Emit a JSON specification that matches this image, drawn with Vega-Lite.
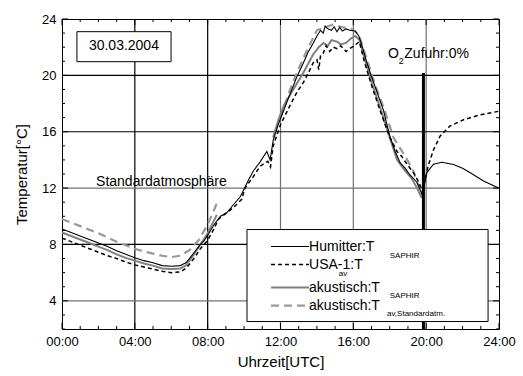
{
  "$schema": "https://vega.github.io/schema/vega-lite/v6.json",
  "width": 437,
  "height": 310,
  "autosize": {"type": "none"},
  "padding": {"left": 62, "top": 19, "right": 24, "bottom": 47},
  "background": "white",
  "config": {
    "font": "Liberation Sans",
    "view": {"stroke": "black", "strokeWidth": 1},
    "axis": {"labelFont": "Liberation Sans", "titleFont": "Liberation Sans", "labelColor": "black", "titleColor": "black", "titleFontWeight": "normal", "domain": false, "ticks": false, "grid": false}
  },
  "datasets": {
    "one": [{"k": 1}],
    "tx": [{"v":0},{"v":1},{"v":2},{"v":3},{"v":4},{"v":5},{"v":6},{"v":7},{"v":8},{"v":9},{"v":10},{"v":11},{"v":12},{"v":13},{"v":14},{"v":15},{"v":16},{"v":17},{"v":18},{"v":19},{"v":20},{"v":21},{"v":22},{"v":23},{"v":24}],
    "ty": [{"v":2},{"v":3},{"v":4},{"v":5},{"v":6},{"v":7},{"v":8},{"v":9},{"v":10},{"v":11},{"v":12},{"v":13},{"v":14},{"v":15},{"v":16},{"v":17},{"v":18},{"v":19},{"v":20},{"v":21},{"v":22},{"v":23},{"v":24}],
    "gx": [{"v": 4}, {"v": 8}, {"v": 12}, {"v": 16}, {"v": 20}],
    "gy": [{"v": 4}, {"v": 8}, {"v": 12}, {"v": 16}, {"v": 20}],
    "hum": [
      {"t":0.0,"T":9.1},{"t":0.5,"T":8.85},{"t":1.0,"T":8.6},{"t":1.5,"T":8.35},{"t":2.0,"T":8.1},{"t":2.5,"T":7.85},{"t":3.0,"T":7.55},{"t":3.5,"T":7.3},{"t":4.0,"T":7.05},{"t":4.5,"T":6.85},{"t":5.0,"T":6.7},{"t":5.5,"T":6.5},{"t":6.0,"T":6.45},{"t":6.5,"T":6.5},{"t":6.8,"T":6.7},{"t":7.0,"T":7.0},{"t":7.3,"T":7.5},{"t":7.6,"T":8.0},{"t":7.8,"T":8.25},{"t":8.0,"T":8.65},{"t":8.35,"T":9.4},{"t":8.7,"T":10.0},{"t":9.05,"T":10.25},{"t":9.4,"T":10.8},{"t":9.8,"T":11.4},{"t":10.25,"T":12.6},{"t":10.5,"T":13.2},{"t":10.9,"T":13.9},{"t":11.25,"T":14.6},{"t":11.43,"T":14.0},{"t":11.6,"T":15.4},{"t":11.9,"T":16.6},{"t":12.2,"T":17.6},{"t":12.5,"T":18.6},{"t":12.9,"T":19.9},{"t":13.26,"T":20.9},{"t":13.5,"T":21.6},{"t":13.8,"T":22.3},{"t":14.0,"T":22.8},{"t":14.2,"T":23.2},{"t":14.35,"T":23.0},{"t":14.45,"T":23.5},{"t":14.6,"T":23.3},{"t":14.8,"T":23.2},{"t":14.95,"T":23.45},{"t":15.1,"T":23.1},{"t":15.25,"T":23.4},{"t":15.4,"T":23.15},{"t":15.6,"T":23.3},{"t":15.8,"T":23.2},{"t":16.1,"T":23.15},{"t":16.3,"T":22.8},{"t":16.5,"T":22.0},{"t":16.7,"T":21.1},{"t":17.0,"T":19.9},{"t":17.25,"T":19.0},{"t":17.66,"T":17.5},{"t":18.0,"T":15.7},{"t":18.3,"T":14.6},{"t":18.57,"T":13.8},{"t":18.85,"T":13.4},{"t":19.1,"T":12.95},{"t":19.5,"T":12.4},{"t":19.76,"T":11.6},{"t":19.9,"T":12.3},{"t":20.04,"T":13.1},{"t":20.4,"T":13.7},{"t":20.86,"T":13.83},{"t":21.5,"T":13.67},{"t":22.0,"T":13.4},{"t":22.4,"T":13.1},{"t":23.15,"T":12.5},{"t":23.98,"T":12.0}
    ],
    "usa": [
      {"t":0.0,"T":8.45},{"t":0.5,"T":8.2},{"t":1.0,"T":7.95},{"t":1.5,"T":7.7},{"t":2.0,"T":7.45},{"t":2.5,"T":7.2},{"t":3.0,"T":7.0},{"t":3.5,"T":6.75},{"t":4.0,"T":6.55},{"t":4.5,"T":6.4},{"t":5.0,"T":6.25},{"t":5.5,"T":6.1},{"t":6.0,"T":6.0},{"t":6.5,"T":6.05},{"t":6.8,"T":6.3},{"t":7.0,"T":6.6},{"t":7.3,"T":7.1},{"t":7.6,"T":7.7},{"t":8.0,"T":8.3},{"t":8.3,"T":9.0},{"t":8.6,"T":9.8},{"t":9.0,"T":10.2},{"t":9.4,"T":10.6},{"t":9.87,"T":11.2},{"t":10.05,"T":12.0},{"t":10.5,"T":12.8},{"t":10.88,"T":13.55},{"t":11.3,"T":13.9},{"t":11.45,"T":13.5},{"t":11.6,"T":15.0},{"t":12.0,"T":16.5},{"t":12.5,"T":17.8},{"t":12.9,"T":18.8},{"t":13.26,"T":19.5},{"t":13.5,"T":20.1},{"t":13.8,"T":20.9},{"t":14.0,"T":21.1},{"t":14.1,"T":20.4},{"t":14.2,"T":21.4},{"t":14.36,"T":21.6},{"t":14.5,"T":22.1},{"t":14.7,"T":21.7},{"t":14.9,"T":22.0},{"t":15.1,"T":21.9},{"t":15.3,"T":22.1},{"t":15.6,"T":21.7},{"t":15.8,"T":21.9},{"t":16.0,"T":22.05},{"t":16.33,"T":22.4},{"t":16.6,"T":21.0},{"t":17.0,"T":19.3},{"t":17.5,"T":17.4},{"t":18.0,"T":15.6},{"t":18.4,"T":14.6},{"t":18.66,"T":14.25},{"t":19.0,"T":13.6},{"t":19.3,"T":13.1},{"t":19.6,"T":12.4},{"t":19.8,"T":11.8},{"t":19.95,"T":12.6},{"t":20.1,"T":13.55},{"t":20.4,"T":14.7},{"t":20.77,"T":15.7},{"t":21.3,"T":16.4},{"t":22.05,"T":16.85},{"t":22.97,"T":17.2},{"t":23.98,"T":17.45}
    ],
    "aks": [
      {"t":0.0,"T":8.85,"g":1},{"t":0.5,"T":8.6,"g":1},{"t":1.0,"T":8.35,"g":1},{"t":1.5,"T":8.1,"g":1},{"t":2.0,"T":7.85,"g":1},{"t":2.5,"T":7.6,"g":1},{"t":3.0,"T":7.3,"g":1},{"t":3.5,"T":7.05,"g":1},{"t":4.0,"T":6.85,"g":1},{"t":4.5,"T":6.65,"g":1},{"t":5.0,"T":6.5,"g":1},{"t":5.5,"T":6.3,"g":1},{"t":6.0,"T":6.25,"g":1},{"t":6.5,"T":6.3,"g":1},{"t":6.8,"T":6.5,"g":1},{"t":7.0,"T":6.85,"g":1},{"t":7.3,"T":7.4,"g":1},{"t":7.6,"T":8.0,"g":1},{"t":8.0,"T":8.8,"g":1},{"t":8.5,"T":10.1,"g":1},
      {"t":11.6,"T":15.6,"g":2},{"t":11.9,"T":16.9,"g":2},{"t":12.2,"T":17.9,"g":2},{"t":12.7,"T":19.0,"g":2},{"t":13.26,"T":20.2,"g":2},{"t":13.8,"T":21.5,"g":2},{"t":14.1,"T":22.0,"g":2},{"t":14.36,"T":22.3,"g":2},{"t":14.6,"T":22.1,"g":2},{"t":14.8,"T":22.5,"g":2},{"t":15.1,"T":22.4,"g":2},{"t":15.3,"T":22.2,"g":2},{"t":15.6,"T":22.3,"g":2},{"t":15.85,"T":22.6,"g":2},{"t":16.1,"T":22.8,"g":2},{"t":16.35,"T":22.5,"g":2},{"t":16.6,"T":21.3,"g":2},{"t":17.0,"T":19.5,"g":2},{"t":17.5,"T":17.6,"g":2},{"t":18.0,"T":15.6,"g":2},{"t":18.4,"T":14.0,"g":2},{"t":18.8,"T":13.3,"g":2},{"t":19.2,"T":12.7,"g":2},{"t":19.5,"T":12.0,"g":2},{"t":19.76,"T":11.3,"g":2}
    ],
    "akav": [
      {"t":0.0,"T":9.8,"g":1},{"t":0.5,"T":9.55,"g":1},{"t":1.0,"T":9.3,"g":1},{"t":1.5,"T":9.05,"g":1},{"t":2.0,"T":8.8,"g":1},{"t":2.5,"T":8.5,"g":1},{"t":3.0,"T":8.2,"g":1},{"t":3.5,"T":7.95,"g":1},{"t":4.0,"T":7.7,"g":1},{"t":4.5,"T":7.5,"g":1},{"t":5.0,"T":7.35,"g":1},{"t":5.5,"T":7.2,"g":1},{"t":6.0,"T":7.1,"g":1},{"t":6.5,"T":7.2,"g":1},{"t":7.0,"T":7.6,"g":1},{"t":7.5,"T":8.3,"g":1},{"t":8.0,"T":9.4,"g":1},{"t":8.5,"T":10.9,"g":1},
      {"t":12.0,"T":17.0,"g":2},{"t":12.5,"T":18.9,"g":2},{"t":13.0,"T":20.5,"g":2},{"t":13.5,"T":21.9,"g":2},{"t":14.0,"T":23.2,"g":2},{"t":14.4,"T":23.4,"g":2},{"t":14.9,"T":23.6,"g":2},{"t":15.45,"T":23.4,"g":2},{"t":15.9,"T":23.3,"g":2},{"t":16.3,"T":22.9,"g":2},{"t":16.7,"T":21.3,"g":2},{"t":17.2,"T":19.3,"g":2},{"t":17.7,"T":17.6,"g":2},{"t":18.2,"T":15.6,"g":2},{"t":18.85,"T":14.25,"g":2},{"t":19.3,"T":13.2,"g":2},{"t":19.76,"T":11.5,"g":2}
    ]
  },
  "layer": [
    {
      "data": {"name": "hum"},
      "mark": {"type": "point", "opacity": 0},
      "encoding": {
        "x": {"field": "t", "type": "quantitative", "scale": {"domain": [0, 24], "nice": false, "zero": false},
          "axis": {"orient": "bottom", "values": [0,4,8,12,16,20,24],
            "labelExpr": "(datum.value < 10 ? '0' : '') + datum.value + ':00'",
            "labelFontSize": 13, "labelPadding": 6, "labelFlush": false,
            "title": "Uhrzeit[UTC]", "titleFontSize": 15, "titlePadding": 6}},
        "y": {"field": "T", "type": "quantitative", "scale": {"domain": [2, 24], "nice": false, "zero": false},
          "axis": {"orient": "left", "values": [4,8,12,16,20,24],
            "labelFontSize": 13, "labelPadding": 6, "labelFlush": false,
            "title": "Temperatur[°C]", "titleFontSize": 15, "titlePadding": 12}}
      }
    },
    {
      "data": {"name": "hum"},
      "mark": {"type": "point", "opacity": 0},
      "encoding": {
        "x": {"field": "t", "type": "quantitative",
          "axis": {"orient": "top", "values": [0,4,8,12,16,20,24], "labels": false, "ticks": false, "title": null}},
        "y": {"field": "T", "type": "quantitative",
          "axis": {"orient": "right", "values": [4,8,12,16,20,24], "labels": false, "ticks": false, "title": null}}
      }
    },
    {
      "data": {"name": "gx"},
      "mark": {"type": "rule", "strokeWidth": 1.2},
      "encoding": {
        "x": {"field": "v", "type": "quantitative", "axis": null},
        "color": {"condition": {"test": "datum.v === 4 || datum.v === 8", "value": "#000000"}, "value": "#707070"}
      }
    },
    {
      "data": {"name": "gy"},
      "mark": {"type": "rule", "strokeWidth": 1.2},
      "encoding": {
        "y": {"field": "v", "type": "quantitative", "axis": null},
        "color": {"condition": {"test": "datum.v === 4 || datum.v === 12", "value": "#707070"}, "value": "#000000"}
      }
    },
    {
      "data": {"name": "tx"},
      "transform": [{"filter": "datum.v % 4 === 0"}],
      "mark": {"type": "rule", "color": "black", "strokeWidth": 1},
      "encoding": {"x": {"field": "v", "type": "quantitative", "axis": null}, "y": {"datum": 2, "type": "quantitative", "axis": null}, "y2": {"datum": 2.43}}
    },
    {
      "data": {"name": "tx"},
      "transform": [{"filter": "datum.v % 4 !== 0"}],
      "mark": {"type": "rule", "color": "black", "strokeWidth": 1},
      "encoding": {"x": {"field": "v", "type": "quantitative", "axis": null}, "y": {"datum": 2, "type": "quantitative", "axis": null}, "y2": {"datum": 2.22}}
    },
    {
      "data": {"name": "tx"},
      "transform": [{"filter": "datum.v % 4 === 0"}],
      "mark": {"type": "rule", "color": "black", "strokeWidth": 1},
      "encoding": {"x": {"field": "v", "type": "quantitative", "axis": null}, "y": {"datum": 24, "type": "quantitative", "axis": null}, "y2": {"datum": 23.57}}
    },
    {
      "data": {"name": "tx"},
      "transform": [{"filter": "datum.v % 4 !== 0"}],
      "mark": {"type": "rule", "color": "black", "strokeWidth": 1},
      "encoding": {"x": {"field": "v", "type": "quantitative", "axis": null}, "y": {"datum": 24, "type": "quantitative", "axis": null}, "y2": {"datum": 23.78}}
    },
    {
      "data": {"name": "ty"},
      "transform": [{"filter": "datum.v % 4 === 0"}],
      "mark": {"type": "rule", "color": "black", "strokeWidth": 1},
      "encoding": {"y": {"field": "v", "type": "quantitative", "axis": null}, "x": {"datum": 0, "type": "quantitative", "axis": null}, "x2": {"datum": 0.33}}
    },
    {
      "data": {"name": "ty"},
      "transform": [{"filter": "datum.v % 4 !== 0"}],
      "mark": {"type": "rule", "color": "black", "strokeWidth": 1},
      "encoding": {"y": {"field": "v", "type": "quantitative", "axis": null}, "x": {"datum": 0, "type": "quantitative", "axis": null}, "x2": {"datum": 0.165}}
    },
    {
      "data": {"name": "ty"},
      "transform": [{"filter": "datum.v % 4 === 0"}],
      "mark": {"type": "rule", "color": "black", "strokeWidth": 1},
      "encoding": {"y": {"field": "v", "type": "quantitative", "axis": null}, "x": {"datum": 24, "type": "quantitative", "axis": null}, "x2": {"datum": 23.67}}
    },
    {
      "data": {"name": "ty"},
      "transform": [{"filter": "datum.v % 4 !== 0"}],
      "mark": {"type": "rule", "color": "black", "strokeWidth": 1},
      "encoding": {"y": {"field": "v", "type": "quantitative", "axis": null}, "x": {"datum": 24, "type": "quantitative", "axis": null}, "x2": {"datum": 23.835}}
    },
    {
      "data": {"name": "akav"},
      "mark": {"type": "line", "color": "#999999", "strokeWidth": 2.2, "strokeDash": [8, 5]},
      "encoding": {
        "x": {"field": "t", "type": "quantitative", "axis": null},
        "y": {"field": "T", "type": "quantitative", "axis": null},
        "detail": {"field": "g", "type": "nominal"}
      }
    },
    {
      "data": {"name": "aks"},
      "mark": {"type": "line", "color": "#808080", "strokeWidth": 2},
      "encoding": {
        "x": {"field": "t", "type": "quantitative", "axis": null},
        "y": {"field": "T", "type": "quantitative", "axis": null},
        "detail": {"field": "g", "type": "nominal"}
      }
    },
    {
      "data": {"name": "usa"},
      "mark": {"type": "line", "color": "black", "strokeWidth": 1.5, "strokeDash": [4, 3]},
      "encoding": {
        "x": {"field": "t", "type": "quantitative", "axis": null},
        "y": {"field": "T", "type": "quantitative", "axis": null}
      }
    },
    {
      "data": {"name": "hum"},
      "mark": {"type": "line", "color": "black", "strokeWidth": 1.1},
      "encoding": {
        "x": {"field": "t", "type": "quantitative", "axis": null},
        "y": {"field": "T", "type": "quantitative", "axis": null}
      }
    },
    {
      "data": {"name": "one"},
      "mark": {"type": "rule", "color": "black", "strokeWidth": 3},
      "encoding": {"x": {"datum": 19.85, "type": "quantitative", "axis": null}, "y": {"datum": 2, "type": "quantitative", "axis": null}, "y2": {"datum": 20.17}}
    },
    {
      "data": {"name": "one"},
      "mark": {"type": "rect", "fill": "white", "stroke": "black", "strokeWidth": 1},
      "encoding": {"x": {"datum": 0.82, "type": "quantitative", "axis": null}, "x2": {"datum": 5.99}, "y": {"datum": 23.1, "type": "quantitative", "axis": null}, "y2": {"datum": 20.97}}
    },
    {
      "data": {"name": "one"},
      "mark": {"type": "text", "fontSize": 14, "align": "center", "baseline": "middle", "font": "Liberation Sans"},
      "encoding": {"x": {"datum": 3.4, "type": "quantitative", "axis": null}, "y": {"datum": 22.05, "type": "quantitative", "axis": null}, "text": {"value": "30.03.2004"}}
    },
    {
      "data": {"name": "one"},
      "mark": {"type": "text", "fontSize": 14, "align": "left", "baseline": "middle", "font": "Liberation Sans"},
      "encoding": {"x": {"datum": 17.9, "type": "quantitative", "axis": null}, "y": {"datum": 21.5, "type": "quantitative", "axis": null}, "text": {"value": "O"}}
    },
    {
      "data": {"name": "one"},
      "mark": {"type": "text", "fontSize": 9, "align": "left", "baseline": "middle", "font": "Liberation Sans"},
      "encoding": {"x": {"datum": 18.5, "type": "quantitative", "axis": null}, "y": {"datum": 21.0, "type": "quantitative", "axis": null}, "text": {"value": "2"}}
    },
    {
      "data": {"name": "one"},
      "mark": {"type": "text", "fontSize": 14, "align": "left", "baseline": "middle", "font": "Liberation Sans"},
      "encoding": {"x": {"datum": 18.8, "type": "quantitative", "axis": null}, "y": {"datum": 21.5, "type": "quantitative", "axis": null}, "text": {"value": "Zufuhr:0%"}}
    },
    {
      "data": {"name": "one"},
      "mark": {"type": "text", "fontSize": 14, "align": "left", "baseline": "middle", "font": "Liberation Sans"},
      "encoding": {"x": {"datum": 1.87, "type": "quantitative", "axis": null}, "y": {"datum": 12.4, "type": "quantitative", "axis": null}, "text": {"value": "Standardatmosphäre"}}
    },
    {
      "data": {"name": "one"},
      "mark": {"type": "rect", "fill": "white", "stroke": "black", "strokeWidth": 1},
      "encoding": {"x": {"datum": 10.16, "type": "quantitative", "axis": null}, "x2": {"datum": 23.4}, "y": {"datum": 9.06, "type": "quantitative", "axis": null}, "y2": {"datum": 2.53}}
    },
    {
      "data": {"name": "one"},
      "mark": {"type": "rule", "color": "black", "strokeWidth": 1.1},
      "encoding": {"x": {"datum": 11.48, "type": "quantitative", "axis": null}, "x2": {"datum": 13.57}, "y": {"datum": 7.85, "type": "quantitative", "axis": null}}
    },
    {
      "data": {"name": "one"},
      "mark": {"type": "rule", "color": "black", "strokeWidth": 1.5, "strokeDash": [4, 3]},
      "encoding": {"x": {"datum": 11.48, "type": "quantitative", "axis": null}, "x2": {"datum": 13.57}, "y": {"datum": 6.57, "type": "quantitative", "axis": null}}
    },
    {
      "data": {"name": "one"},
      "mark": {"type": "rule", "color": "#808080", "strokeWidth": 2},
      "encoding": {"x": {"datum": 11.48, "type": "quantitative", "axis": null}, "x2": {"datum": 13.57}, "y": {"datum": 4.94, "type": "quantitative", "axis": null}}
    },
    {
      "data": {"name": "one"},
      "mark": {"type": "rule", "color": "#999999", "strokeWidth": 2.2, "strokeDash": [8, 5]},
      "encoding": {"x": {"datum": 11.48, "type": "quantitative", "axis": null}, "x2": {"datum": 13.57}, "y": {"datum": 3.66, "type": "quantitative", "axis": null}}
    },
    {
      "data": {"name": "one"},
      "mark": {"type": "text", "fontSize": 14, "align": "left", "baseline": "middle", "font": "Liberation Sans"},
      "encoding": {"x": {"datum": 13.57, "type": "quantitative", "axis": null}, "y": {"datum": 7.85, "type": "quantitative", "axis": null}, "text": {"value": "Humitter:T"}}
    },
    {
      "data": {"name": "one"},
      "mark": {"type": "text", "fontSize": 14, "align": "left", "baseline": "middle", "font": "Liberation Sans"},
      "encoding": {"x": {"datum": 13.57, "type": "quantitative", "axis": null}, "y": {"datum": 6.57, "type": "quantitative", "axis": null}, "text": {"value": "USA-1:T"}}
    },
    {
      "data": {"name": "one"},
      "mark": {"type": "text", "fontSize": 14, "align": "left", "baseline": "middle", "font": "Liberation Sans"},
      "encoding": {"x": {"datum": 13.57, "type": "quantitative", "axis": null}, "y": {"datum": 4.94, "type": "quantitative", "axis": null}, "text": {"value": "akustisch:T"}}
    },
    {
      "data": {"name": "one"},
      "mark": {"type": "text", "fontSize": 14, "align": "left", "baseline": "middle", "font": "Liberation Sans"},
      "encoding": {"x": {"datum": 13.57, "type": "quantitative", "axis": null}, "y": {"datum": 3.66, "type": "quantitative", "axis": null}, "text": {"value": "akustisch:T"}}
    },
    {
      "data": {"name": "one"},
      "mark": {"type": "text", "fontSize": 8, "align": "left", "baseline": "middle", "font": "Liberation Sans"},
      "encoding": {"x": {"datum": 18.0, "type": "quantitative", "axis": null}, "y": {"datum": 7.16, "type": "quantitative", "axis": null}, "text": {"value": "SAPHIR"}}
    },
    {
      "data": {"name": "one"},
      "mark": {"type": "text", "fontSize": 8, "align": "left", "baseline": "middle", "font": "Liberation Sans"},
      "encoding": {"x": {"datum": 15.2, "type": "quantitative", "axis": null}, "y": {"datum": 5.87, "type": "quantitative", "axis": null}, "text": {"value": "av"}}
    },
    {
      "data": {"name": "one"},
      "mark": {"type": "text", "fontSize": 8, "align": "left", "baseline": "middle", "font": "Liberation Sans"},
      "encoding": {"x": {"datum": 18.0, "type": "quantitative", "axis": null}, "y": {"datum": 4.37, "type": "quantitative", "axis": null}, "text": {"value": "SAPHIR"}}
    },
    {
      "data": {"name": "one"},
      "mark": {"type": "text", "fontSize": 8, "align": "left", "baseline": "middle", "font": "Liberation Sans"},
      "encoding": {"x": {"datum": 17.85, "type": "quantitative", "axis": null}, "y": {"datum": 3.03, "type": "quantitative", "axis": null}, "text": {"value": "av,Standardatm."}}
    }
  ]
}
